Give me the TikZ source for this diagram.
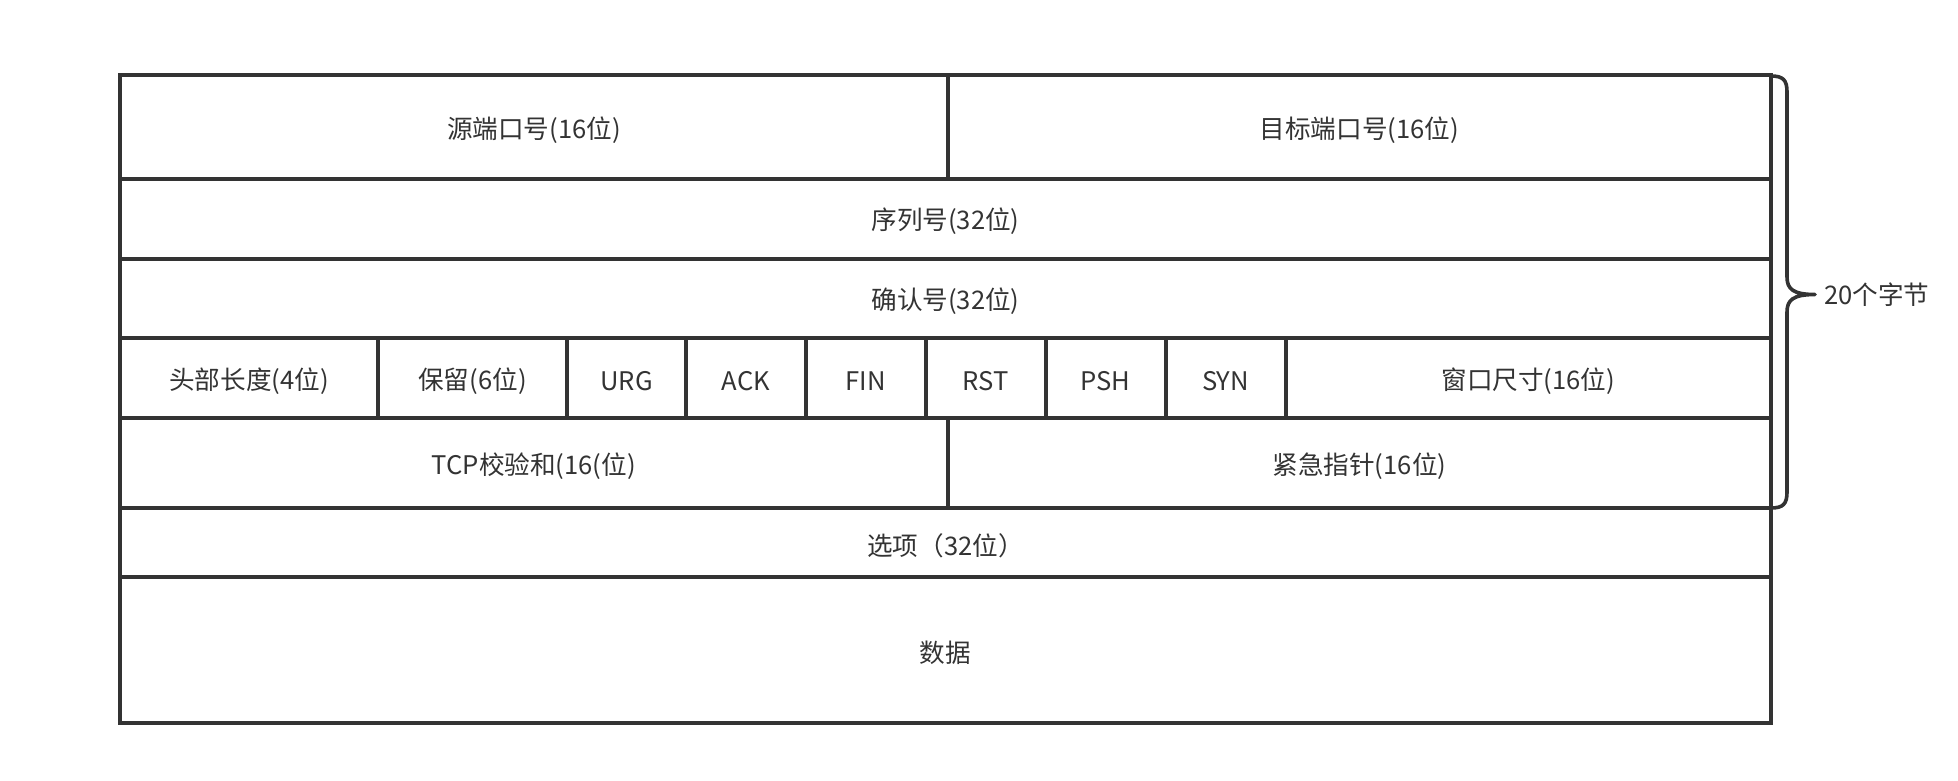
\documentclass[tikz,border=0pt]{standalone}
\usepackage{fontspec}
\setmainfont{Noto Sans CJK SC}
\definecolor{ink}{HTML}{333333}
\tikzset{
  cellline/.style={draw=ink, line width=4pt, line join=miter},
  celltext/.style={font=\fontsize{25.6pt}{30pt}\selectfont, text=ink, inner sep=0pt},
  bracepath/.style={draw=ink, line width=3.6pt, line cap=round, line join=round},
}
\newcommand{\tcpcell}[6]{%
  \draw[cellline] (#2,#3) rectangle (#4,#5);
  \node[celltext, yshift=-3pt] (#1) at ({(#2+#4)/2},{(#3+#5)/2}) {#6};}
\begin{document}
\begin{tikzpicture}[x=1pt,y=-1pt]
\useasboundingbox (0,0) rectangle (1958,780);
% row 1
\tcpcell{src}{120}{75}{947.8}{178.6}{源端口号(16位)}
\tcpcell{dst}{947.8}{75}{1771}{178.6}{目标端口号(16位)}
% row 2
\tcpcell{seq}{120}{178.6}{1771}{258.5}{序列号(32位)}
% row 3
\tcpcell{ackn}{120}{258.5}{1771}{338.4}{确认号(32位)}
% row 4
\tcpcell{hlen}{120}{338.4}{378}{418.3}{头部长度(4位)}
\tcpcell{rsv}{378}{338.4}{567}{418.3}{保留(6位)}
\tcpcell{urg}{567}{338.4}{686}{418.3}{URG}
\tcpcell{ackf}{686}{338.4}{806}{418.3}{ACK}
\tcpcell{fin}{806}{338.4}{925.5}{418.3}{FIN}
\tcpcell{rst}{925.5}{338.4}{1045.5}{418.3}{RST}
\tcpcell{psh}{1045.5}{338.4}{1165.5}{418.3}{PSH}
\tcpcell{syn}{1165.5}{338.4}{1285.5}{418.3}{SYN}
\tcpcell{win}{1285.5}{338.4}{1771}{418.3}{窗口尺寸(16位)}
% row 5
\tcpcell{csum}{120}{418.3}{947.8}{508.2}{TCP校验和(16(位)}
\tcpcell{uptr}{947.8}{418.3}{1771}{508.2}{紧急指针(16位)}
% row 6
\tcpcell{opt}{120}{508.2}{1771}{576.9}{选项（32位）}
% row 7
\tcpcell{data}{120}{576.9}{1771}{723}{数据}
% brace
\coordinate (btop) at (1771,76);
\coordinate (btip) at (1815,294.5);
\coordinate (bbot) at (1771,508);
\draw[bracepath] (btop) .. controls (1783,76) and (1787,80) .. (1787,92)
  -- (1787,277) .. controls (1787,289) and (1793,294.5) .. (btip)
  .. controls (1793,294.5) and (1787,300) .. (1787,312)
  -- (1787,492) .. controls (1787,504) and (1783,508) .. (bbot);
\node[celltext, anchor=west] (bytes) at (1824,295) {20个字节};
\end{tikzpicture}
\end{document}
